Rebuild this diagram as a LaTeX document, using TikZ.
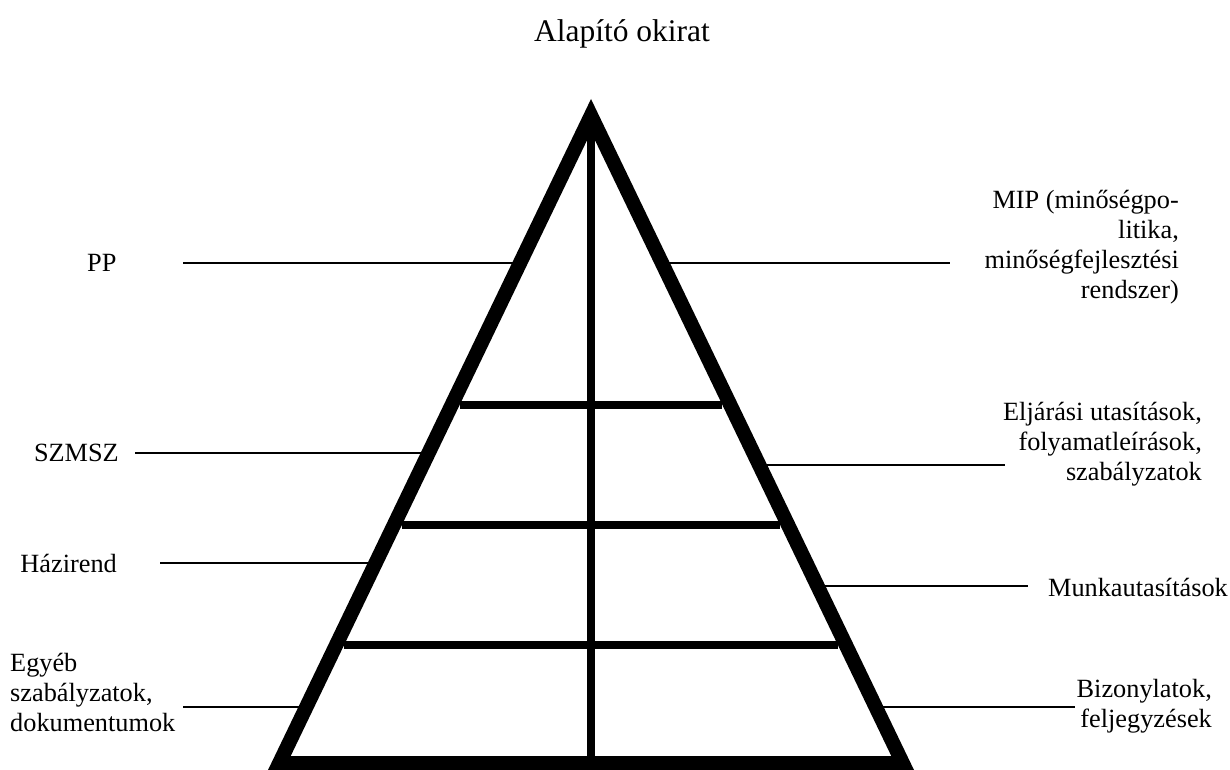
\documentclass[tikz,border=0pt]{standalone}
\usepackage{fontspec}
\setmainfont{Liberation Serif}
\begin{document}
\begin{tikzpicture}[x=1pt,y=-1pt,
  lbl/.style={inner sep=0pt, font=\fontsize{26.3}{30}\selectfont},
  conn/.style={line width=2pt},
  grid/.style={line width=7.5pt}]
\useasboundingbox[fill=white] (0,0) rectangle (1230,770);
% title
\node[inner sep=0pt, font=\fontsize{31.5}{36}\selectfont] (title) at (622,34) {Alapító okirat};
% triangle frame
\fill[even odd rule] (591,99) -- (268,770) -- (914,770) -- cycle
  (591,132) -- (290.7,756) -- (891.3,756) -- cycle;
% inner lines
\coordinate (vtop) at (591,125);
\coordinate (vbot) at (591,760);
\draw[grid] (vtop) -- (vbot);
\coordinate (h1l) at (459.7,405); \coordinate (h1r) at (722.3,405);
\coordinate (h2l) at (401.9,525); \coordinate (h2r) at (780.1,525);
\coordinate (h3l) at (344.2,645); \coordinate (h3r) at (837.8,645);
\draw[grid] (h1l) -- (h1r);
\draw[grid] (h2l) -- (h2r);
\draw[grid] (h3l) -- (h3r);
% left labels
\node[lbl, anchor=west] (pp) at (87,263) {PP};
\node[lbl, anchor=east] (szmsz) at (119,453) {SZMSZ};
\node[lbl, anchor=east] (hazi) at (117,563) {Házirend};
\node[lbl, anchor=west, align=left] (egyeb) at (10,692) {Egyéb\\szabályzatok,\\dokumentumok};
% right labels
\node[lbl, anchor=east, align=right] (mip) at (1179,247) {MIP (minőségpo-\\litika,\\minőségfejlesztési\\rendszer)};
\node[lbl, anchor=east, align=right] (elj) at (1202,444) {Eljárási utasítások,\\folyamatleírások,\\szabályzatok};
\node[lbl, anchor=east] (munka) at (1228,587) {Munkautasítások};
\node[lbl, anchor=east, align=right] (biz) at (1212,706) {Bizonylatok,\\feljegyzések};
% connector ends
\coordinate (ppa) at (183,263);  \coordinate (ppb) at (514,263);
\coordinate (mipa) at (668,263); \coordinate (mipb) at (950,263);
\coordinate (sza) at (135,453);  \coordinate (szb) at (423,453);
\coordinate (elja) at (765,465); \coordinate (eljb) at (1005,465);
\coordinate (ha) at (160,563);   \coordinate (hb) at (370,563);
\coordinate (ma) at (823,586);   \coordinate (mb) at (1028,586);
\coordinate (ea) at (183,707);   \coordinate (eb) at (300,707);
\coordinate (ba) at (882,707);   \coordinate (bb) at (1075,707);
\draw[conn] (ppa) -- (ppb);
\draw[conn] (mipa) -- (mipb);
\draw[conn] (sza) -- (szb);
\draw[conn] (elja) -- (eljb);
\draw[conn] (ha) -- (hb);
\draw[conn] (ma) -- (mb);
\draw[conn] (ea) -- (eb);
\draw[conn] (ba) -- (bb);
\end{tikzpicture}
\end{document}
